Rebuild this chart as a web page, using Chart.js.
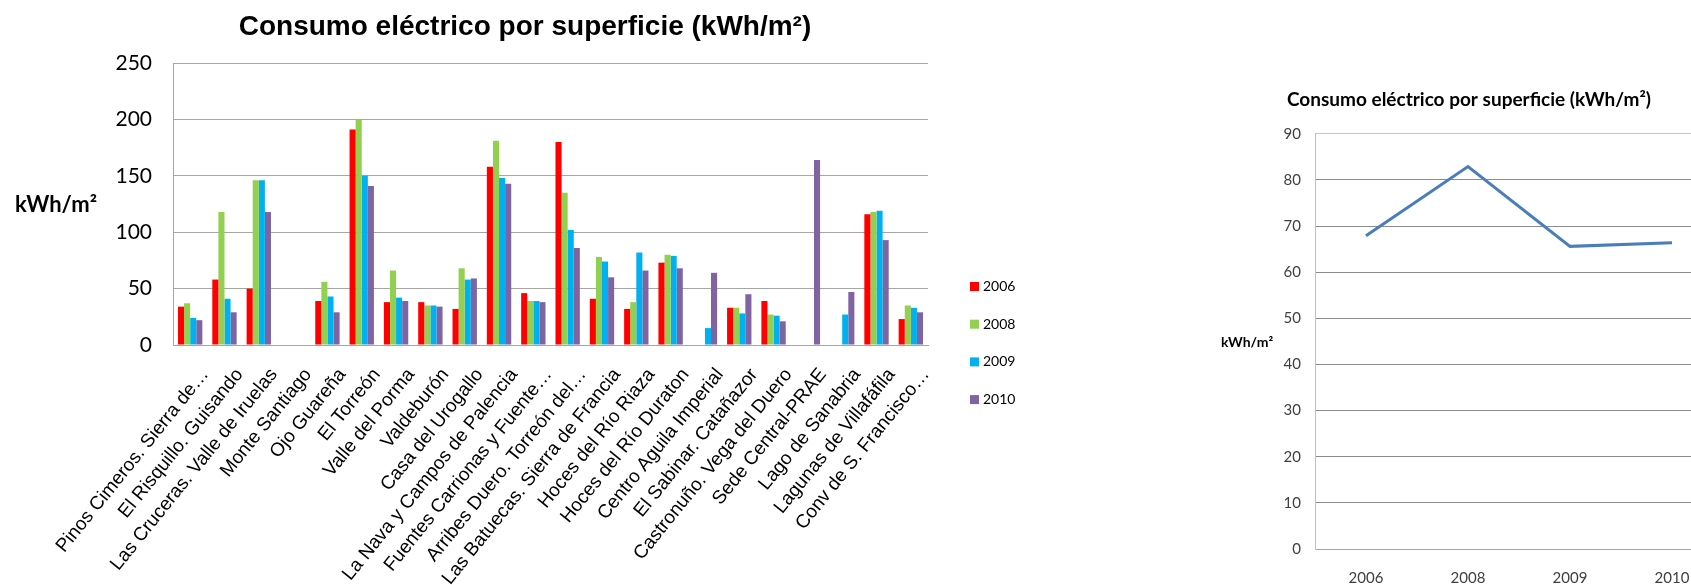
<!DOCTYPE html>
<html>
<head>
<meta charset="utf-8">
<script src="https://cdn.jsdelivr.net/npm/chart.js@4.4.1/dist/chart.umd.min.js"></script>
<style>
  html, body { margin: 0; padding: 0; background: #fff; width: 1691px; height: 585px; overflow: hidden; }
  #wrapBars  { position: absolute; left: 0;      top: 0; width: 1050px; height: 585px; }
  #wrapTrend { position: absolute; left: 1215px; top: 0; width: 508px;  height: 585px; }
</style>
</head>
<body>
<div id="wrapBars"><canvas id="bars" width="1050" height="585"></canvas></div>
<div id="wrapTrend"><canvas id="trend" width="508" height="585"></canvas></div>
<script>
// Centros (categorías del gráfico de barras)
const centros = [
  'Pinos Cimeros. Sierra de…',
  'El Risquillo. Guisando',
  'Las Cruceras. Valle de Iruelas',
  'Monte Santiago',
  'Ojo Guareña',
  'El Torreón',
  'Valle del Porma',
  'Valdeburón',
  'Casa del Urogallo',
  'La Nava y Campos de Palencia',
  'Fuentes Carrionas y Fuente…',
  'Arribes Duero. Torreón del…',
  'Las Batuecas. Sierra de Francia',
  'Hoces del Río Riaza',
  'Hoces del Río Duraton',
  'Centro Aguila Imperial',
  'El Sabinar. Catañazor',
  'Castronuño. Vega del Duero',
  'Sede Central-PRAE',
  'Lago de Sanabria',
  'Lagunas de Villafáfila',
  'Conv de S. Francisco…'
];

// Consumo por superficie (kWh/m²) de cada año
const consumo2006 = [34, 58, 50, null, 39, 191, 38, 38, 32, 158, 46, 180, 41, 32, 73, null, 33, 39, null, null, 116, 23];
const consumo2008 = [37, 118, 146, null, 56, 200, 66, 35, 68, 181, 39, 135, 78, 38, 80, null, 33, 27, null, null, 118, 35];
const consumo2009 = [24, 41, 146, null, 43, 150, 42, 35, 58, 148, 39, 102, 74, 82, 79, 15, 28, 26, null, 27, 119, 33];
const consumo2010 = [22, 29, 118, null, 29, 141, 39, 34, 59, 143, 38, 86, 60, 66, 68, 64, 45, 21, 164, 47, 93, 29];

const years = ['2006', '2008', '2009', '2010'];
const yearColors = ['#FF0000', '#92D050', '#00B0F0', '#8064A2'];
const barTicks = [0, 50, 100, 150, 200, 250];

// Media anual (gráfico de línea)
const mediaAnual = [67.9, 82.9, 65.6, 66.4];
const trendTicks = [0, 10, 20, 30, 40, 50, 60, 70, 80, 90];

const titleText = 'Consumo eléctrico por superficie (kWh/m²)';
const unitText = 'kWh/m²';

// Free-standing horizontal texts (titles, unit labels)
const canvasTexts = {
  id: 'canvasTexts',
  afterDraw(chart, args, opts) {
    const ctx = chart.ctx;
    ctx.save();
    ctx.textAlign = 'center';
    ctx.textBaseline = 'middle';
    (opts.items || []).forEach(it => {
      ctx.font = it.font;
      ctx.fillStyle = it.color || '#000';
      ctx.fillText(it.text, it.x, it.y);
    });
    ctx.restore();
  }
};

// Vertical legend list to the right of the bars
const sideLegend = {
  id: 'sideLegend',
  afterDraw(chart, args, opts) {
    const ctx = chart.ctx;
    ctx.save();
    ctx.font = opts.font;
    ctx.textAlign = 'left';
    ctx.textBaseline = 'middle';
    chart.data.datasets.forEach((ds, i) => {
      const cy = opts.y + i * opts.step;
      ctx.fillStyle = ds.backgroundColor;
      ctx.fillRect(opts.x, cy - opts.box / 2, opts.box, opts.box);
      ctx.fillStyle = '#000';
      ctx.fillText(ds.label, opts.x + opts.box + 4, cy);
    });
    ctx.restore();
  }
};

const seriesByYear = [consumo2006, consumo2008, consumo2009, consumo2010];

new Chart(document.getElementById('bars'), {
  type: 'bar',
  data: {
    labels: centros,
    datasets: years.map((y, i) => ({
      label: y,
      data: seriesByYear[i],
      backgroundColor: yearColors[i],
      borderWidth: 0,
      categoryPercentage: 0.71,
      barPercentage: 1.0
    }))
  },
  options: {
    responsive: false,
    animation: false,
    layout: { padding: { left: 0, right: 122, top: 63, bottom: 0 } },
    plugins: {
      legend: { display: false },
      tooltip: { enabled: false },
      title: { display: false },
      canvasTexts: {
        items: [
          { text: titleText, x: 525, y: 27, font: 'bold 28px "Liberation Sans"', color: '#000' },
          { text: unitText, x: 56, y: 205, font: 'bold 22px Lato', color: '#000' }
        ]
      },
      sideLegend: { x: 970, y: 286.5, step: 37.7, box: 9, font: '14px Lato' }
    },
    scales: {
      x: {
        grid: { display: false, drawTicks: false },
        border: { color: '#a6a6a6', width: 1 },
        ticks: {
          color: '#000',
          font: { family: 'Liberation Sans', size: 19 },
          minRotation: 51, maxRotation: 51,
          autoSkip: false,
          padding: 19,
          labelOffset: 15
        },
        afterFit: s => { s.height = 240; }
      },
      y: {
        min: 0, max: 250,
        afterBuildTicks: s => { s.ticks = barTicks.map(v => ({ value: v })); },
        grid: { color: '#a6a6a6', drawTicks: false },
        border: { color: '#a6a6a6', width: 1 },
        ticks: { padding: 21, color: '#000', font: { family: 'Lato', size: 21 } },
        afterFit: s => { s.width = 173; }
      }
    }
  },
  plugins: [canvasTexts, sideLegend]
});

new Chart(document.getElementById('trend'), {
  type: 'line',
  data: {
    labels: years,
    datasets: [{
      label: 'Media',
      data: mediaAnual,
      borderColor: '#4A7EBB',
      borderWidth: 3,
      pointRadius: 0,
      tension: 0,
      fill: false
    }]
  },
  options: {
    responsive: false,
    animation: false,
    layout: { padding: 0 },
    plugins: {
      legend: { display: false },
      tooltip: { enabled: false },
      title: {
        display: true,
        text: titleText,
        color: '#000',
        font: { family: 'Lato', size: 19, weight: 'bold' },
        padding: { top: 88, bottom: 23 }
      },
      canvasTexts: {
        items: [ { text: unitText, x: 32, y: 342, font: 'bold 14px Lato', color: '#000' } ]
      }
    },
    scales: {
      x: {
        offset: true,
        grid: { display: false, drawTicks: false, offset: true },
        border: { color: '#a6a6a6', width: 1 },
        ticks: { color: '#404040', font: { family: 'Lato', size: 15 }, padding: 20 },
        afterFit: s => { s.height = 36; }
      },
      y: {
        min: 0, max: 90,
        afterBuildTicks: s => { s.ticks = trendTicks.map(v => ({ value: v })); },
        grid: { color: c => (c.tick && c.tick.value === 90 ? '#c8c8c8' : '#8c8c8c'), drawTicks: false },
        border: { color: '#c0c0c0', width: 1 },
        ticks: { padding: 14, color: '#404040', font: { family: 'Lato', size: 15 } },
        afterFit: s => { s.width = 100; }
      }
    }
  },
  plugins: [canvasTexts]
});
</script>
</body>
</html>
